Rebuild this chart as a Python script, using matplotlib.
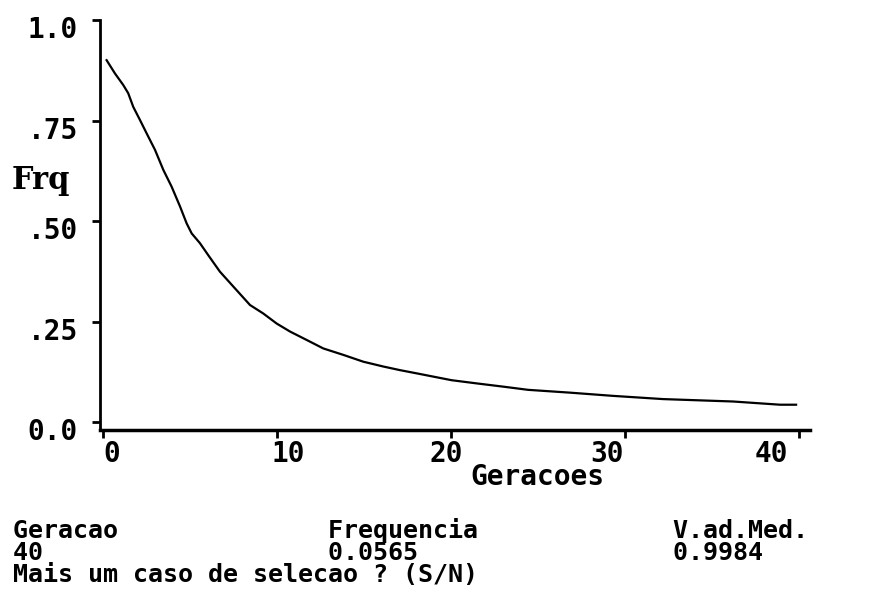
import matplotlib
matplotlib.use("Agg")
import matplotlib.pyplot as plt
from matplotlib.transforms import ScaledTranslation

# ---- data ----
geracoes = [0.21, 0.69, 1.17, 1.45, 1.74, 2.13, 2.51, 2.99, 3.47, 3.95, 4.43, 4.81,
            5.10, 5.57, 6.05, 6.72, 7.49, 8.45, 9.21, 9.98, 10.75, 11.71, 12.66,
            13.81, 14.96, 16.11, 17.07, 18.03, 18.97, 20.03, 21.48, 22.99, 24.43,
            26.84, 29.31, 32.18, 36.21, 38.91, 39.83]
frequencia = [0.900, 0.867, 0.838, 0.818, 0.784, 0.751, 0.718, 0.677, 0.627, 0.585,
              0.536, 0.494, 0.469, 0.445, 0.415, 0.374, 0.337, 0.291, 0.270, 0.245,
              0.225, 0.204, 0.183, 0.167, 0.150, 0.138, 0.129, 0.121, 0.113, 0.104,
              0.096, 0.088, 0.080, 0.073, 0.065, 0.057, 0.051, 0.043, 0.043]

x_ticks = [0, 10, 20, 30, 40]
x_tick_labels = ["0", "10", "20", "30", "40"]
y_ticks = [0.0, 0.25, 0.50, 0.75, 1.0]
y_tick_labels = ["0.0", ".25", ".50", ".75", "1.0"]

header = ["Geracao", "Frequencia", "V.ad.Med."]
values = ["40", "0.0565", "0.9984"]
prompt = "Mais um caso de selecao ? (S/N)"

# ---- figure ----
W, H = 873, 590
fig = plt.figure(figsize=(W / 100, H / 100), dpi=100)
fig.patch.set_facecolor("white")

ax = fig.add_axes([100 / W, (H - 430) / H, 710 / W, 410 / H])
ax.plot(geracoes, frequencia, color="black", linewidth=1.6)

ax.set_xlim(-0.17, 40.63)
ax.set_ylim(-0.0199, 1.0)

for s in ("top", "right"):
    ax.spines[s].set_visible(False)
ax.spines["left"].set_linewidth(2)
ax.spines["bottom"].set_linewidth(2.5)

mono = "DejaVu Sans Mono"
ax.set_xticks(x_ticks)
ax.set_xticklabels(x_tick_labels, family=mono, fontweight="bold", fontsize=20)
ax.set_yticks(y_ticks)
ax.set_yticklabels(y_tick_labels, family=mono, fontweight="bold", fontsize=20)
ax.tick_params(axis="y", direction="out", length=6, width=2, pad=10)
ax.tick_params(axis="x", direction="out", length=6, width=2, pad=1)

# shift tick labels to their character-cell positions
x_off_px = [9, 11, -5, -18, -28]
for lab, off in zip(ax.get_xticklabels(), x_off_px):
    lab.set_transform(lab.get_transform() + ScaledTranslation(off / 100, 0, fig.dpi_scale_trans))
for lab in ax.get_yticklabels():
    lab.set_transform(lab.get_transform() + ScaledTranslation(0, -7 / 100, fig.dpi_scale_trans))

# axis titles
fig.text(12 / W, 1 - 180 / H, "Frq", family="DejaVu Serif", fontweight="bold",
         fontsize=22, ha="left", va="center")
fig.text(537 / W, 1 - 477 / H, "Geracoes", family=mono, fontweight="bold",
         fontsize=20, ha="center", va="center")

# status block: one monospace text, columns padded to the screen positions
col_chars = [21, 23]
def row(items):
    return items[0].ljust(col_chars[0]) + items[1].ljust(col_chars[1]) + items[2]

status = row(header) + "\n" + row(values) + "\n" + prompt
fig.text(13 / W, 1 - 518 / H, status, family=mono, fontweight="bold",
         fontsize=18, ha="left", va="top", linespacing=0.89)

fig.savefig("out.png", dpi=100, facecolor="white")
